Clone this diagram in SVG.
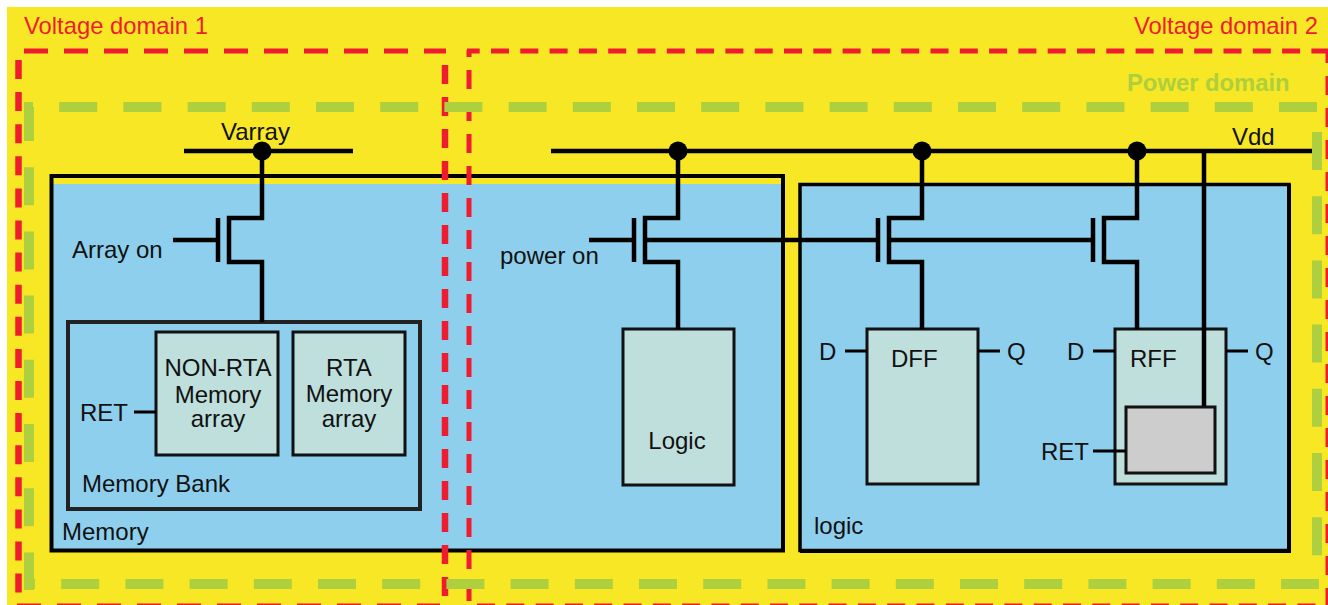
<svg xmlns="http://www.w3.org/2000/svg" width="1328" height="605" viewBox="0 0 1328 605">
<defs>
<style>
text{font-family:"Liberation Sans",Arial,sans-serif;font-size:24px;fill:#111}
.c{text-anchor:middle}
.red{fill:#ee1c2e;font-size:23.800px}
.pd{fill:#aecf3e;font-weight:bold;font-size:23.800px}
.w{fill:none;stroke:#000;stroke-width:4.500}
.t{fill:none;stroke:#000;stroke-width:3}
.box{fill:#bfdfdd;stroke:#111;stroke-width:3}
.dot{fill:#000}
.g{fill:none;stroke:#aecf3e;stroke-width:10;stroke-dasharray:38 26.200}
.r1{fill:none;stroke:#ee1c2e;stroke-width:6.500}
.r2{fill:none;stroke:#ee1c2e;stroke-width:5}
</style>
</defs>
<rect width="1328" height="605" fill="#fff"/>
<rect x="7" y="7" width="1321" height="598" fill="#f8e725"/>

<g id="memory">
<rect x="52" y="184" width="731" height="366" fill="#8ecfee"/>
<rect x="51.500" y="176" width="731.500" height="374.500" fill="none" stroke="#000" stroke-width="4"/>
<text x="62" y="540">Memory</text>
</g>
<g id="logic-domain">
<rect x="800" y="184.500" width="489" height="366" fill="#8ecfee" stroke="#000" stroke-width="3.500"/>
<path d="M1289 184V552.500M800 551H1291" fill="none" stroke="#000" stroke-width="4"/>
<text x="814" y="534">logic</text>
</g>
<g id="memory-bank">
<rect x="68" y="322" width="352" height="187" fill="none" stroke="#222" stroke-width="4"/>
<text x="82" y="492">Memory Bank</text>
<text x="80" y="421">RET</text>
</g>
<g id="non-rta">
<rect class="box" x="156" y="332" width="122" height="123"/>
<text class="c" x="218" y="376">NON-RTA</text>
<text class="c" x="218" y="403">Memory</text>
<text class="c" x="218" y="427">array</text>
</g>
<g id="rta">
<rect class="box" x="293" y="332" width="112" height="123"/>
<text class="c" x="349" y="376">RTA</text>
<text class="c" x="349" y="402">Memory</text>
<text class="c" x="349" y="427">array</text>
</g>
<g id="logic">
<rect class="box" x="623" y="329" width="111" height="156"/>
<text class="c" x="677" y="449">Logic</text>
</g>
<g id="dff">
<rect class="box" x="867" y="329" width="111" height="155"/>
<text x="891" y="367">DFF</text>
<text x="819" y="360">D</text>
<text x="1007" y="360">Q</text>
</g>
<g id="rff">
<rect class="box" x="1115" y="329" width="111" height="155"/>
<rect x="1126" y="407" width="89" height="66" fill="#cdcdcd" stroke="#111" stroke-width="3"/>
<text x="1130" y="367">RFF</text>
<text x="1067" y="360">D</text>
<text x="1255" y="360">Q</text>
<text x="1041" y="460">RET</text>
</g>

<g id="connectors">
<path class="w" d="M184 151H353M551 151H1312"/>
<path class="w" d="M262 151V218H229V262H262V322M218 218V262M173 240H216"/>
<path class="w" d="M678 151V218H645V262H678V329M634 218V262M589 240H632M645 240H876"/>
<path class="w" d="M922 151V218H889V262H922V329M878 218V262M889 240H1091"/>
<path class="w" d="M1137 151V218H1104V262H1137V329M1093 218V262"/>
<path class="w" d="M1204 151V406"/>
<path class="t" d="M134 412H156M845 351H867M978 351H1000M1093 351H1115M1226 351H1248M1093 451H1126"/>
<circle class="dot" cx="262" cy="151" r="9.500"/>
<circle class="dot" cx="678" cy="151" r="9.500"/>
<circle class="dot" cx="922" cy="151" r="9.500"/>
<circle class="dot" cx="1137" cy="151" r="9.500"/>
</g>
<text x="221" y="140">Varray</text>
<text x="1232" y="145">Vdd</text>
<text x="72" y="258">Array on</text>
<text x="500" y="264">power on</text>

<g id="voltage-domain-1">
<path class="r2" stroke-dasharray="24 16" d="M24 51H446"/>
<path class="r1" stroke-dasharray="19 13.100" d="M18.500 60V594"/>
<path class="r1" stroke-dasharray="19 13" d="M445 65V600"/>
<path class="r2" stroke-dasharray="24 16" d="M17 606H440"/>
<text class="red" x="24" y="34">Voltage domain 1</text>
</g>
<g id="voltage-domain-2">
<path class="r2" stroke-dasharray="18 11.300" stroke-dashoffset="5.300" d="M467 51H1328"/>
<path class="r2" stroke-dasharray="19 13" stroke-dashoffset="12" d="M469 50V605"/>
<path class="r2" stroke-dasharray="19 13" stroke-dashoffset="9" d="M1328 53V605"/>
<path class="r2" stroke-dasharray="18 11.300" d="M477 606H1328"/>
<text class="red" x="1134" y="34">Voltage domain 2</text>
</g>
<g id="power-domain">
<path class="g" stroke-dashoffset="29" d="M24 107H1317"/>
<path class="g" stroke-dashoffset="27" d="M24 584H1322"/>
<path class="g" stroke-dashoffset="4" d="M29 107V590"/>
<path class="g" d="M1317 132V556"/>
<text class="pd" x="1127" y="91">Power domain</text>
</g>
</svg>
